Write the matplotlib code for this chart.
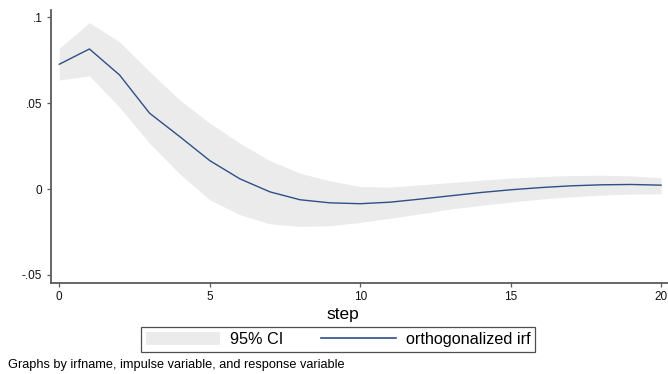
import numpy as np
import matplotlib.pyplot as plt
from matplotlib.patches import Patch
from matplotlib.lines import Line2D

plt.rcParams['font.family'] = ['Liberation Sans', 'DejaVu Sans']

step = np.arange(0, 21)
irf = [0.0727, 0.0816, 0.0665, 0.0442, 0.0306, 0.0166, 0.0060, -0.0016,
       -0.0062, -0.0080, -0.0085, -0.0076, -0.0058, -0.0039, -0.0020,
       -0.0004, 0.0009, 0.0019, 0.0025, 0.0027, 0.0023]
ci_upper = [0.0820, 0.0969, 0.0858, 0.0684, 0.0519, 0.0384, 0.0267, 0.0166,
            0.0093, 0.0048, 0.0015, 0.0012, 0.0025, 0.0038, 0.0052,
            0.0064, 0.0073, 0.0079, 0.0081, 0.0077, 0.0067]
ci_lower = [0.0635, 0.0660, 0.0477, 0.0267, 0.0089, -0.0062, -0.0149, -0.0202,
            -0.0217, -0.0213, -0.0194, -0.0169, -0.0144, -0.0116, -0.0095,
            -0.0076, -0.0058, -0.0045, -0.0035, -0.0029, -0.0027]
yticks = [-0.05, 0, 0.05, 0.1]
ytick_labels = ['-.05', '0', '.05', '.1']
xticks = [0, 5, 10, 15, 20]

band_col = '#ebebeb'
line_col = '#2f4f86'
axis_col = '#5a5a5a'

fig = plt.figure(figsize=(6.68, 3.74), dpi=100, facecolor='w')
ax = fig.add_axes([0.0759, 0.2441, 0.9241, 0.7292])
ax.fill_between(step, ci_lower, ci_upper, color=band_col, linewidth=0)
ax.plot(step, irf, color=line_col, linewidth=1.0)

ax.set_xlim(-0.286, 20.23)
ax.set_ylim(-0.0545, 0.1043)
ax.set_xticks(xticks)
ax.set_yticks(yticks)
ax.set_yticklabels(ytick_labels)
for s in ['top', 'right']:
    ax.spines[s].set_visible(False)
for s in ['left', 'bottom']:
    ax.spines[s].set_color(axis_col)
    ax.spines[s].set_linewidth(1.3)
ax.tick_params(direction='out', length=3, width=0.9, color=axis_col,
               labelsize=8.5, pad=3, labelcolor='#111111')

fig.text(0.513, 0.160, 'step', ha='center', va='center', fontsize=12.5)

handles = [Patch(facecolor=band_col, edgecolor='none'),
           Line2D([], [], color=line_col, linewidth=1.2)]
leg = fig.legend(handles, ['95% CI', 'orthogonalized irf'], ncol=2,
                 loc='center', bbox_to_anchor=(0.506, 0.0922),
                 fontsize=11.7, frameon=True, fancybox=False,
                 handlelength=4.6, handleheight=0.88, handletextpad=0.62,
                 columnspacing=2.3, borderpad=0.3, borderaxespad=0)
leg.get_frame().set_edgecolor('#222222')
leg.get_frame().set_linewidth(0.9)

fig.text(0.012, 0.024, 'Graphs by irfname, impulse variable, and response variable',
         ha='left', va='center', fontsize=9.2)

fig.savefig('out.png', dpi=100, facecolor='w')
